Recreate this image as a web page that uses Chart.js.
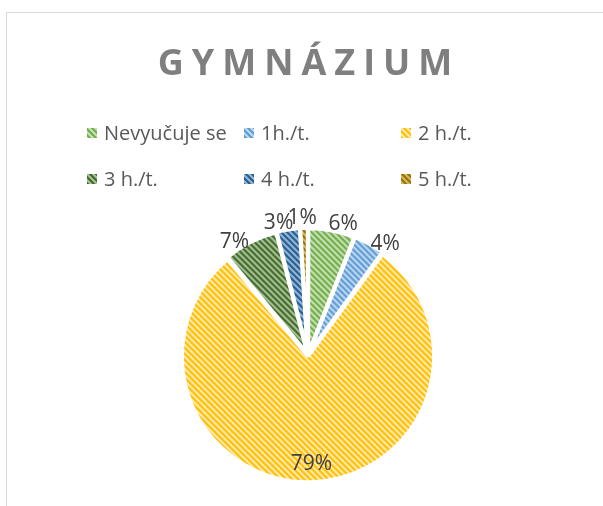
<!DOCTYPE html>
<html>
<head>
<meta charset="utf-8">
<script src="https://cdn.jsdelivr.net/npm/chart.js@4.4.0/dist/chart.umd.min.js"></script>
<style>
  html, body { margin: 0; padding: 0; background: #fff; overflow: hidden; }
  #wrap { position: relative; width: 603px; height: 506px; overflow: hidden; }
  #frame { position: absolute; left: 6px; top: 12px; width: 700px; height: 600px; border: 1px solid #d9d9d9; }
  canvas { position: absolute; left: 0; top: 0; }
</style>
</head>
<body>
<div id="wrap">
  <div id="frame"></div>
  <canvas id="chart" width="603" height="506"></canvas>
</div>
<script>
// data
const chartTitle = 'GYMNÁZIUM';
const categories = ['Nevyučuje se', '1h./t.', '2 h./t.', '3 h./t.', '4 h./t.', '5 h./t.'];
const shares = [6, 4, 79, 7, 3, 1];

// stripe colours (line, background)
const lineColors = ['#70AD47', '#5B9BD5', '#FFC000', '#43682B', '#255E91', '#997300'];
const backColors = ['#C9E2B8', '#C3DAF0', '#FFEBB3', '#A8C597', '#98B9D8', '#D4B866'];

const canvas = document.getElementById('chart');
const ctx = canvas.getContext('2d');

// downward diagonal hatch, like the Excel pattern fill
function stripes(fg, bg) {
    const t = document.createElement('canvas');
    t.width = 6; t.height = 6;
    const c = t.getContext('2d');
    c.fillStyle = bg;
    c.fillRect(0, 0, 6, 6);
    c.strokeStyle = fg;
    c.lineWidth = 2.2;
    c.beginPath();
    for (const k of [-6, 0, 6]) {
        c.moveTo(k - 1, -1);
        c.lineTo(k + 7, 7);
    }
    c.stroke();
    return ctx.createPattern(t, 'repeat');
}
const fills = lineColors.map((c, i) => stripes(c, backColors[i]));

// title + grid legend, drawn like Excel does it
const headerPlugin = {
    id: 'header',
    afterDraw(chart) {
        const c = chart.ctx;
        c.save();
        c.font = 'bold 36px "Open Sans"';
        c.fillStyle = '#7f7f7f';
        c.textBaseline = 'alphabetic';
        c.textAlign = 'left';
        c.letterSpacing = '8px';
        const w = c.measureText(chartTitle).width - 8;
        c.fillText(chartTitle, 305 - w / 2, 75);
        c.restore();

        c.save();
        c.font = '20px "Open Sans"';
        c.textBaseline = 'middle';
        chart.data.labels.forEach((lab, i) => {
            const x = 87 + (i % 3) * 157;
            const y = 133 + Math.floor(i / 3) * 46;
            c.fillStyle = fills[i];
            c.fillRect(x, y - 5, 10, 10);
            c.fillStyle = '#595959';
            c.fillText(lab, x + 17, y + 1);
        });
        c.restore();
    }
};

// percentage labels: outside for small slices, inside for the big one
const pctPlugin = {
    id: 'pct',
    afterDatasetsDraw(chart) {
        const c = chart.ctx;
        const meta = chart.getDatasetMeta(0);
        const data = chart.data.datasets[0].data;
        const total = data.reduce((a, b) => a + b, 0);
        const off = chart.data.datasets[0].offset;
        c.save();
        c.font = '21px "Open Sans"';
        c.fillStyle = '#404040';
        c.textAlign = 'center';
        c.textBaseline = 'middle';
        meta.data.forEach((arc, i) => {
            const p = arc.getProps(['x', 'y', 'startAngle', 'endAngle', 'outerRadius'], true);
            const mid = (p.startAngle + p.endAngle) / 2;
            const ux = Math.cos(mid), uy = Math.sin(mid);
            const txt = Math.round(data[i] / total * 100) + '%';
            let tx, ty;
            if (data[i] / total > 0.3) {
                const d = p.outerRadius - 21 + off;
                tx = p.x + ux * d;
                ty = p.y + uy * d;
            } else {
                const d = p.outerRadius + off;
                const hw = c.measureText(txt).width / 2;
                tx = p.x + ux * d + hw * Math.sign(ux) * Math.min(1, Math.abs(ux) * 4);
                ty = p.y + uy * d + 9 * uy * (1 - Math.abs(ux) * 2.5);
            }
            c.fillText(txt, tx, ty + 1);
        });
        c.restore();
    }
};

new Chart(ctx, {
    type: 'pie',
    data: {
        labels: categories,
        datasets: [{
            data: shares,
            backgroundColor: fills,
            borderColor: '#ffffff',
            borderWidth: 4,
            offset: 4.5
        }]
    },
    options: {
        responsive: false,
        animation: false,
        radius: 125,
        layout: { padding: { left: 20, right: 7, top: 225, bottom: 21 } },
        plugins: {
            legend: { display: false },
            title: { display: false },
            tooltip: { enabled: false }
        }
    },
    plugins: [headerPlugin, pctPlugin]
});
</script>
</body>
</html>
